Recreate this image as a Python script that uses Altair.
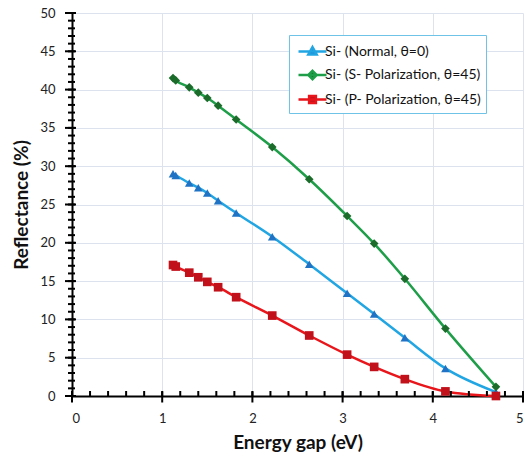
import altair as alt
import pandas as pd

# Energy gap (eV) sample points, shared by all three series
energy_gap = [1.12, 1.15, 1.30, 1.40, 1.50, 1.62, 1.82, 2.22, 2.63, 3.05, 3.35, 3.69, 4.14, 4.70]

# Reflectance (%) for each incidence condition
normal_0 = [29.0, 28.8, 27.8, 27.2, 26.5, 25.5, 23.9, 20.8, 17.2, 13.4, 10.7, 7.6, 3.6, 0.5]
s_pol_45 = [41.5, 41.2, 40.3, 39.6, 38.9, 37.9, 36.1, 32.5, 28.3, 23.5, 19.9, 15.3, 8.8, 1.2]
p_pol_45 = [17.1, 16.9, 16.1, 15.5, 14.9, 14.2, 12.9, 10.5, 7.9, 5.4, 3.8, 2.2, 0.6, 0.0]

series_names = [
    "Si- (Normal, θ=0)",
    "Si- (S- Polarization, θ=45)",
    "Si- (P- Polarization, θ=45)",
]
line_colors = ["#22a6e3", "#1e9e48", "#e8151b"]
marker_colors = ["#1f72c4", "#1b6b2b", "#c1121c"]
marker_shapes = ["triangle-up", "diamond", "square"]
# legend glyphs: a short line with the marker in its middle
legend_glyphs = [
    "M-1.4,0L1.4,0M0,-0.45L0.42,0.3L-0.42,0.3Z",
    "M-1.4,0L1.4,0M0,-0.42L0.42,0L0,0.42L-0.42,0Z",
    "M-1.4,0L1.4,0M-0.34,-0.34L0.34,-0.34L0.34,0.34L-0.34,0.34Z",
]

# axis tick positions
x_major = [0, 1, 2, 3, 4, 5]
x_minor = [round(0.2 * i, 1) for i in range(26)]
y_major = list(range(0, 51, 5))
y_minor = list(range(0, 51))

PLOT_W, PLOT_H = 451, 383

rows = []
for name, vals in zip(series_names, [normal_0, s_pol_45, p_pol_45]):
    for e, r in zip(energy_gap, vals):
        rows.append({"gap": e, "refl": r, "series": name})
df = pd.DataFrame(rows)

FONT = "Lato"
xs = alt.Scale(domain=[0, 5], nice=False)
ys = alt.Scale(domain=[0, 50], nice=False)

x_main = alt.Axis(
    values=x_major, title="Energy gap (eV)", ticks=False,
    domainColor="black", domainWidth=2, gridColor="#dde3ee", gridWidth=1,
    labelFont=FONT, labelFontSize=13, labelColor="#222", labelPadding=16,
    titleFont=FONT, titleFontSize=19, titleFontWeight="bold", titleColor="#111",
    titlePadding=8, orient="bottom",
)
y_main = alt.Axis(
    values=y_major, title="Reflectance (%)", ticks=False,
    domainColor="black", domainWidth=2, gridColor="#dde3ee", gridWidth=1,
    labelFont=FONT, labelFontSize=13, labelColor="#222", labelPadding=17,
    titleFont=FONT, titleFontSize=19, titleFontWeight="bold", titleColor="#111",
    titlePadding=8, orient="left",
)

lines = alt.Chart(df).mark_line(strokeWidth=2.5, interpolate="monotone").encode(
    x=alt.X("gap:Q", scale=xs, axis=x_main),
    y=alt.Y("refl:Q", scale=ys, axis=y_main),
    stroke=alt.Stroke("series:N", scale=alt.Scale(domain=series_names, range=line_colors), legend=None),
    detail="series:N",
)

points = alt.Chart(df).mark_point(filled=True, size=75, opacity=1).encode(
    x=alt.X("gap:Q", scale=xs, axis=None),
    y=alt.Y("refl:Q", scale=ys, axis=None),
    fill=alt.Fill("series:N", scale=alt.Scale(domain=series_names, range=marker_colors), legend=None),
    shape=alt.Shape("series:N", scale=alt.Scale(domain=series_names, range=marker_shapes), legend=None),
)

legend_def = alt.Legend(
    title=None, orient="none", legendX=217, legendY=22, padding=5,
    symbolOffset=7, strokeColor="#6ec3e6", fillColor="white", symbolSize=400,
    symbolStrokeWidth=2.5, symbolOpacity=1, labelFont=FONT, labelFontSize=14,
    labelColor="#111", labelOffset=1, rowPadding=3.5,
)

legend_layer = alt.Chart(df).mark_point(filled=True, opacity=0).encode(
    x=alt.X("gap:Q", scale=xs, axis=None),
    y=alt.Y("refl:Q", scale=ys, axis=None),
    fill=alt.Fill("series:N", scale=alt.Scale(domain=series_names, range=marker_colors), legend=legend_def),
    stroke=alt.Stroke("series:N", scale=alt.Scale(domain=series_names, range=line_colors), legend=legend_def),
    shape=alt.Shape("series:N", scale=alt.Scale(domain=series_names, range=legend_glyphs), legend=legend_def),
)


# tick marks drawn across the axis lines
def y_ticks(values, length, center):
    return alt.Chart(pd.DataFrame({"v": values})).mark_tick(
        color="black", orient="horizontal", size=length, thickness=2, opacity=1
    ).encode(
        y=alt.Y("v:Q", scale=ys, axis=None),
        x=alt.value(center),
    )


def x_ticks(values, length, center):
    return alt.Chart(pd.DataFrame({"v": values})).mark_tick(
        color="black", orient="vertical", size=length, thickness=2, opacity=1
    ).encode(
        x=alt.X("v:Q", scale=xs, axis=None),
        y=alt.value(PLOT_H + center),
    )


ticks = [
    y_ticks(y_minor, 7, -0.5),
    y_ticks(y_major, 11, -1.5),
    x_ticks(x_minor, 5, -2.5),
    x_ticks(x_major, 11, 1),
]

chart = (
    alt.layer(lines, points, legend_layer, *ticks)
    .resolve_scale(x="independent", y="independent", fill="independent",
                   stroke="independent", shape="independent")
    .resolve_axis(x="independent", y="independent")
    .properties(
        width=PLOT_W, height=PLOT_H,
        autosize=alt.AutoSizeParams(type="none"),
        padding={"left": 72, "top": 13, "right": 3, "bottom": 61},
        background="white",
    )
    .configure_view(stroke=None)
)

chart.save("out.html", embed_options={"renderer": "svg", "actions": False})
